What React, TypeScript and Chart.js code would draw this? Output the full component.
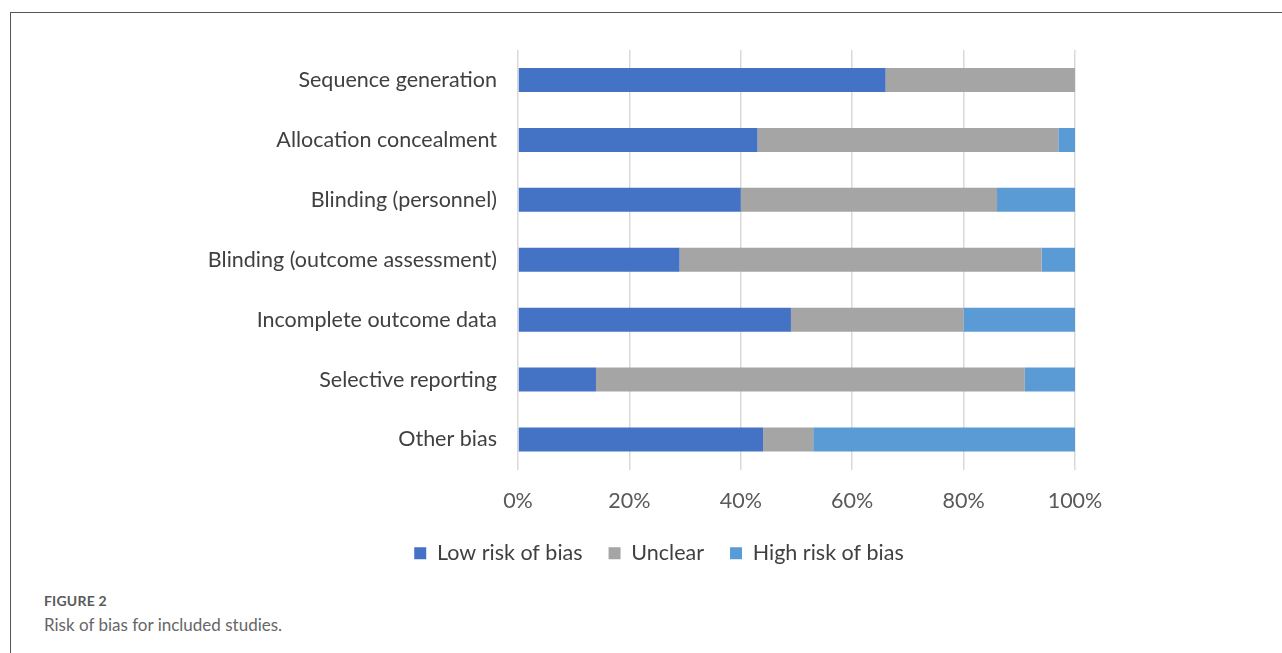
import React, { useEffect, useRef } from "react";
import { Chart, registerables } from "chart.js";

Chart.register(...registerables);

const categories = [
  "Sequence generation",
  "Allocation concealment",
  "Blinding (personnel)",
  "Blinding (outcome assessment)",
  "Incomplete outcome data",
  "Selective reporting",
  "Other bias",
];
const lowRisk = [66, 43, 40, 29, 49, 14, 44];
const unclear = [34, 54, 46, 65, 31, 77, 9];
const highRisk = [0, 3, 14, 6, 20, 9, 47];
const seriesNames = ["Low risk of bias", "Unclear", "High risk of bias"];
const seriesColors = ["#4472C4", "#A5A5A5", "#5B9BD5"];
const xTicks = [0, 20, 40, 60, 80, 100];

const FONT = "Lato, 'Open Sans', sans-serif";
const FS = 21.5;

export default function App() {
  const ref = useRef<HTMLCanvasElement | null>(null);
  useEffect(() => {
    if (!ref.current) return;
    const values = [lowRisk, unclear, highRisk];
    const chart = new Chart(ref.current, {
      type: "bar",
      data: {
        labels: categories,
        datasets: seriesNames.map((name, i) => ({
          label: name,
          data: values[i],
          backgroundColor: seriesColors[i],
          borderWidth: 0,
          barPercentage: 0.4,
          categoryPercentage: 1,
        })),
      },
      options: {
        indexAxis: "y",
        animation: false,
        responsive: false,
        maintainAspectRatio: false,
        layout: { padding: { left: 150, right: 114, top: 50, bottom: 0 } },
        plugins: {
          tooltip: { enabled: false },
          legend: {
            position: "bottom",
            labels: {
              boxWidth: 12,
              boxHeight: 12,
              padding: 26,
              color: "#404040",
              font: { family: FONT, size: FS },
            },
          },
        },
        scales: {
          x: {
            stacked: true,
            min: 0,
            max: 100,
            afterBuildTicks: (scale: any) => {
              scale.ticks = xTicks.map((v) => ({ value: v }));
            },
            afterFit: (scale: any) => {
              scale.height = 47;
            },
            ticks: {
              callback: (v: any) => `${v}%`,
              color: "#595959",
              font: { family: FONT, size: FS },
              padding: 19,
            },
            grid: { color: "#D9D9D9", lineWidth: 1.5, drawTicks: false },
            border: { display: false },
          },
          y: {
            stacked: true,
            afterFit: (scale: any) => {
              scale.width = 368;
            },
            ticks: {
              color: "#404040",
              font: { family: FONT, size: FS },
              padding: 21,
            },
            grid: { display: false, drawTicks: false },
            border: { display: false },
          },
          yRight: {
            type: "category",
            position: "right",
            labels: categories,
            afterFit: (scale: any) => {
              scale.width = 93;
            },
            ticks: { display: false },
            grid: { display: false, drawTicks: false },
            border: { display: false },
          },
        },
      },
    });
    return () => chart.destroy();
  }, []);

  return (
    <div
      style={{
        position: "absolute",
        left: 0,
        top: 0,
        width: 1282,
        height: 653,
        overflow: "hidden",
        background: "#fff",
      }}
    >
      <div
        style={{
          position: "absolute",
          left: 10,
          top: 12,
          width: 1300,
          height: 700,
          borderLeft: "1px solid #555",
          borderTop: "1px solid #555",
        }}
      />
      <canvas
        ref={ref}
        width={1282}
        height={574}
        style={{ position: "absolute", left: 0, top: 0, width: 1282, height: 574 }}
      />
      <div
        style={{
          position: "absolute",
          left: 44,
          top: 592,
          fontFamily: FONT,
          fontSize: 14,
          fontWeight: 700,
          color: "#5a5a5a",
          letterSpacing: 0.2,
        }}
      >
        FIGURE 2
      </div>
      <div
        style={{
          position: "absolute",
          left: 44,
          top: 614,
          fontFamily: FONT,
          fontSize: 17,
          color: "#666",
        }}
      >
        Risk of bias for included studies.
      </div>
    </div>
  );
}
